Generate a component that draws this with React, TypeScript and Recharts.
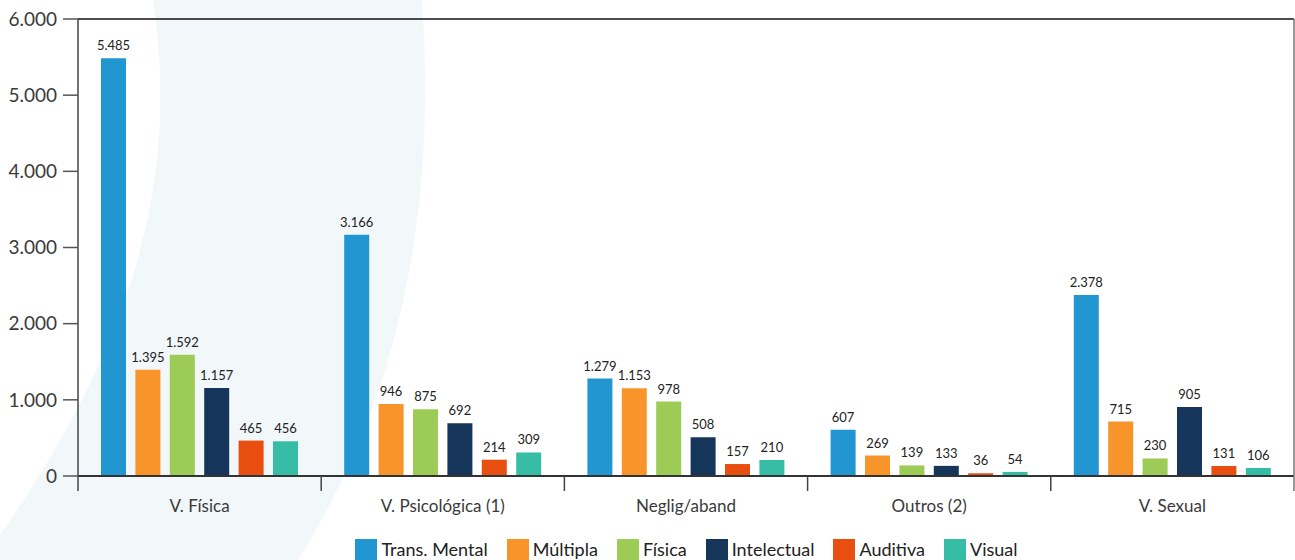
import React from 'react';
import {
  BarChart,
  Bar,
  XAxis,
  YAxis,
  CartesianGrid,
  Legend,
  LabelList,
  ReferenceLine,
} from 'recharts';

const categories = ['V. Física', 'V. Psicológica (1)', 'Neglig/aband', 'Outros (2)', 'V. Sexual'];
const seriesNames = ['Trans. Mental', 'Múltipla', 'Física', 'Intelectual', 'Auditiva', 'Visual'];
const transMental = [5485, 3166, 1279, 607, 2378];
const multipla = [1395, 946, 1153, 269, 715];
const fisica = [1592, 875, 978, 139, 230];
const intelectual = [1157, 692, 508, 133, 905];
const auditiva = [465, 214, 157, 36, 131];
const visual = [456, 309, 210, 54, 106];
const yTicks = [0, 1000, 2000, 3000, 4000, 5000, 6000];

const colors = ['#2196D0', '#F7942A', '#9CCB56', '#15355B', '#E84E0F', '#37BDA5'];
const seriesValues = [transMental, multipla, fisica, intelectual, auditiva, visual];

const data = categories.map((name, i) => {
  const row: Record<string, string | number> = { name };
  seriesNames.forEach((s, j) => {
    row[s] = seriesValues[j][i];
  });
  return row;
});

const WIDTH = 1295;
const HEIGHT = 560;
const Y_AXIS_W = 78;
const RIGHT_AXIS_W = 1;
const FONT = 'Lato, "Open Sans", sans-serif';
const bandWidth = (WIDTH - Y_AXIS_W - RIGHT_AXIS_W) / categories.length;

const fmt = (v: number) => String(v).replace(/\B(?=(\d{3})+(?!\d))/g, '.');

function CategoryTick(props: any) { // eslint-disable-line @typescript-eslint/no-explicit-any
  const { x, y, payload, index } = props;
  const left = x - bandWidth / 2;
  const right = x + bandWidth / 2;
  return (
    <g>
      <line x1={left} x2={left} y1={y} y2={y + 15} stroke="#444" strokeWidth={1.5} />
      {index === categories.length - 1 && (
        <line x1={right} x2={right} y1={y} y2={y + 15} stroke="#777" strokeWidth={1.5} />
      )}
      <text x={x} y={y + 36} textAnchor="middle" fill="#3a3a3a" fontSize={17} fontFamily={FONT}>
        {payload.value}
      </text>
    </g>
  );
}

function LegendContent() {
  return (
    <div
      style={{
        display: 'flex',
        justifyContent: 'center',
        alignItems: 'flex-start',
        height: 24,
        paddingLeft: Y_AXIS_W,
        fontFamily: FONT,
        fontSize: 18,
        lineHeight: '20px',
        color: '#222',
      }}
    >
      {seriesNames.map((s, i) => (
        <div key={s} style={{ display: 'flex', alignItems: 'flex-start', marginRight: i < seriesNames.length - 1 ? 19 : 0 }}>
          <span style={{ width: 22, height: 22, background: colors[i], display: 'inline-block', marginRight: 4, marginTop: 3 }} />
          <span style={{ marginTop: 3 }}>{s}</span>
        </div>
      ))}
    </div>
  );
}

export default function App() {
  return (
    <div style={{ position: 'relative', width: WIDTH, height: HEIGHT, overflow: 'hidden', background: '#fff' }}>
      <style>{'body{margin:0}'}</style>
      <svg width={WIDTH} height={HEIGHT} style={{ position: 'absolute', left: 0, top: 0 }}>
        <path
          d="M153,0 C172,130 165,300 0,535 L0,560 L298,560 C380,430 440,250 422,0 Z"
          fill="#F2F7FA"
        />
      </svg>
      <div style={{ position: 'absolute', left: 0, top: 0 }}>
        <BarChart
          width={WIDTH}
          height={HEIGHT}
          data={data}
          margin={{ top: 19, right: 0, left: 0, bottom: 0 }}
          barSize={25}
          barGap={9.4}
        >
          <CartesianGrid vertical={false} stroke="#D6D9DC" strokeWidth={1.5} />
          <XAxis
            dataKey="name"
            height={60}
            axisLine={false}
            tickLine={false}
            tickSize={0}
            tickMargin={0}
            interval={0}
            tick={<CategoryTick />}
          />
          <YAxis
            yAxisId="left"
            width={Y_AXIS_W}
            domain={[0, 6000]}
            ticks={yTicks}
            tickFormatter={fmt}
            tickSize={15}
            tickMargin={6}
            axisLine={{ stroke: '#444', strokeWidth: 1.5 }}
            tickLine={{ stroke: '#555', strokeWidth: 1.5 }}
            tick={{ fill: '#3a3a3a', fontSize: 19, fontFamily: FONT }}
            interval={0}
          />
          <YAxis
            yAxisId="right"
            orientation="right"
            width={RIGHT_AXIS_W}
            domain={[0, 6000]}
            tick={false}
            tickLine={false}
            axisLine={{ stroke: '#777', strokeWidth: 1.5 }}
          />
          {seriesNames.map((s, i) => (
            <Bar key={s} yAxisId="left" dataKey={s} fill={colors[i]} isAnimationActive={false}>
              <LabelList
                dataKey={s}
                position="top"
                offset={8}
                formatter={(v: any) => fmt(Number(v))} // eslint-disable-line @typescript-eslint/no-explicit-any
                style={{ fill: '#222', fontSize: 13, fontFamily: FONT }}
              />
            </Bar>
          ))}
          <ReferenceLine yAxisId="left" y={6000} stroke="#1a1a1a" strokeWidth={1.5} />
          <ReferenceLine yAxisId="left" y={0} stroke="#333" strokeWidth={2} />
          <Legend verticalAlign="bottom" height={24} content={<LegendContent />} />
        </BarChart>
      </div>
    </div>
  );
}
